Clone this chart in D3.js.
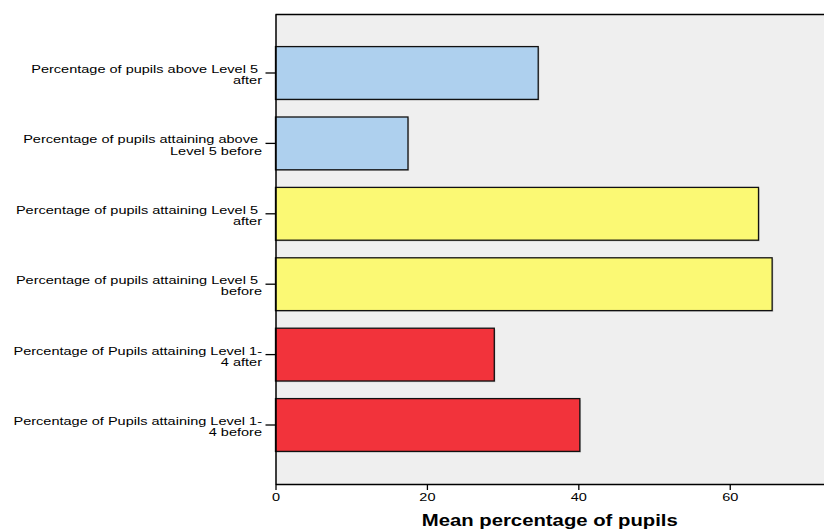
<!DOCTYPE html>
<html><head><meta charset="utf-8">
<script src="https://cdn.jsdelivr.net/npm/d3@7"></script>
<style>body{margin:0;background:#fff}svg{display:block}</style>
</head><body>
<script>
const categories = [
  ["Percentage of pupils above Level 5 ", "after"],
  ["Percentage of pupils attaining above ", "Level 5 before"],
  ["Percentage of pupils attaining Level 5 ", "after"],
  ["Percentage of pupils attaining Level 5 ", "before"],
  ["Percentage of Pupils attaining Level 1-", "4 after"],
  ["Percentage of Pupils attaining Level 1-", "4 before"]
];
const values = [34.7, 17.5, 63.8, 65.6, 28.9, 40.2];
const groups = ["above", "above", "level5", "level5", "below", "below"];
const xTicks = [0, 20, 40, 60];
const xTitle = "Mean percentage of pupils";

(function () {
const W = 824, H = 530;
const pLeft = 275.5, pRight = 824, pTop = 14, pBottom = 484;
const colors = {above: "#aed0ee", level5: "#fbf974", below: "#f2333b"};
const stretch = 1.32;

const svg = d3.select("body").append("svg").attr("width", W).attr("height", H)
  .style("font-family", "'Liberation Sans', Arial, sans-serif");

const x = d3.scaleLinear().domain([0, 72.45]).range([pLeft, pRight]);
const y = d3.scaleBand().domain(d3.range(categories.length)).range([pTop, pBottom])
  .paddingInner(0.25).paddingOuter(0.463);

svg.append("rect").attr("x", pLeft).attr("y", pTop).attr("width", pRight - pLeft).attr("height", pBottom - pTop)
  .attr("fill", "#efefef");
svg.append("line").attr("x1", pLeft).attr("x2", pRight).attr("y1", pTop + 0.5).attr("y2", pTop + 0.5)
  .attr("stroke", "#000").attr("stroke-width", 1.3);

// shadows
svg.append("g").selectAll("rect").data(values).join("rect")
  .attr("x", x(0)).attr("y", (d, i) => y(i) + 1.2)
  .attr("width", d => x(d) - x(0) + 1.2).attr("height", y.bandwidth())
  .attr("fill", "#c8c8c8");

svg.append("g").selectAll("rect").data(values).join("rect")
  .attr("x", x(0)).attr("y", (d, i) => y(i))
  .attr("width", d => x(d) - x(0)).attr("height", y.bandwidth())
  .attr("fill", (d, i) => colors[groups[i]])
  .attr("stroke", "#111").attr("stroke-width", 1.3);

// x axis
const xa = svg.append("g").attr("transform", `translate(0,${pBottom})`)
  .call(d3.axisBottom(x).tickValues(xTicks).tickSize(6).tickSizeOuter(0).tickFormat(d3.format("d")));
xa.select(".domain").attr("stroke", "#000").attr("stroke-width", 1.3);
xa.selectAll(".tick line").attr("stroke", "#000").attr("stroke-width", 1.3);
xa.selectAll(".tick text").attr("font-size", 11).attr("fill", "#000")
  .attr("y", 0).attr("dy", 0)
  .attr("transform", `translate(0,17) scale(${stretch},1)`)
  .style("font-family", "'Liberation Sans', Arial, sans-serif");

// y axis
const ya = svg.append("g").attr("transform", `translate(${pLeft},0)`)
  .call(d3.axisLeft(y).tickSize(10).tickSizeOuter(0).tickFormat(""));
ya.select(".domain").attr("stroke", "#000").attr("stroke-width", 1.5);
ya.selectAll(".tick line").attr("stroke", "#000").attr("stroke-width", 1.3);

const lab = svg.append("g").attr("font-size", 11).attr("fill", "#000").attr("text-anchor", "end");
categories.forEach((lines, i) => {
  const cy = y(i) + y.bandwidth() / 2;
  const t = lab.append("text")
    .attr("transform", `translate(262,${cy}) scale(${stretch},1)`)
    .style("white-space", "pre");
  lines.forEach((ln, j) => {
    t.append("tspan").attr("x", 0).attr("y", j * 11.3).text(ln);
  });
});

svg.append("text")
  .attr("transform", `translate(${(pLeft + pRight) / 2},526) scale(1.27,1)`)
  .attr("text-anchor", "middle").attr("font-size", 16).attr("font-weight", "bold").text(xTitle);
})();
</script>
</body></html>
